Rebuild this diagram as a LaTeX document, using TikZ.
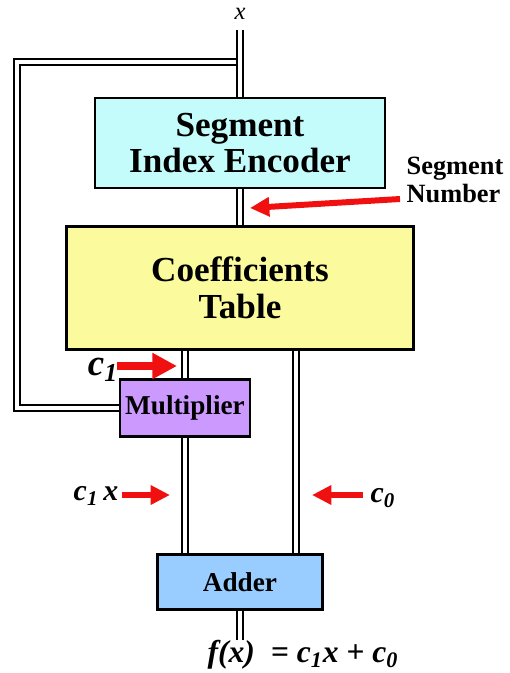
\documentclass[tikz,border=0pt]{standalone}
\usepackage{fontspec}
\setmainfont{Liberation Serif}
\usetikzlibrary{arrows.meta}
\definecolor{EncCyan} {HTML}{C4FBFB}
\definecolor{TabYellow}{HTML}{FBFB9E}
\definecolor{MulViolet}{HTML}{CC99FF}
\definecolor{AddBlue} {HTML}{99CCFF}
\definecolor{ArrRed}  {HTML}{F01010}
\tikzset{
  every node/.style={font=\bfseries},
  % function blocks
  blk/.style={draw, line width=1.3pt, align=center, inner sep=0pt},
  bus/.style={line width=1.5pt, double=white, double distance=1.8pt},
  redarr/.style={draw=ArrRed, line width=3.4pt,
                 -{Triangle[length=11pt, width=10.5pt]}},
  coef/.style={font=\fontsize{17}{17}\selectfont\bfseries\itshape},
}
\begin{document}
\begin{tikzpicture}[x=0.02cm, y=-0.02cm]
\useasboundingbox (0,0) rectangle (510,673);
\node[blk, fill=EncCyan, minimum width=5.8cm, minimum height=1.8cm,
      font=\fontsize{20}{20}\selectfont\bfseries] (sie) at (240,143) {Segment\\Index Encoder};
\node[blk, fill=TabYellow, minimum width=6.94cm, minimum height=2.46cm,
      font=\fontsize{20}{21}\selectfont\bfseries] (ct) at (240,288) {Coefficients\\Table};
\node[blk, fill=MulViolet, minimum width=2.6cm, minimum height=1.14cm,
      font=\fontsize{15.5}{15.5}\selectfont\bfseries] (mul) at (185,408) {Multiplier};
\node[blk, fill=AddBlue, minimum width=3.3cm, minimum height=1.1cm,
      font=\fontsize{15.5}{15.5}\selectfont\bfseries] (add) at (240,582) {Adder};
\coordinate (xin) at (240,30);
\coordinate (tap) at (240,62);
\coordinate (fbl) at (17,408);
\coordinate (c0x) at (296,350);
\coordinate (out) at (240,640);
% buses
\draw[bus] (tap) -| (fbl) -- (mul.west);
\draw[bus] (xin) -- (sie.north);
\draw[bus] (sie.south) -- (ct.north);
\draw[bus] (mul.north |- ct.south) -- (mul.north);
\draw[bus] (mul.south) -- (mul.south |- add.north);
\draw[bus] (c0x |- ct.south) -- (c0x |- add.north);
\draw[bus] (add.south) -- (out);
% labels
\node[font=\fontsize{14}{14}\selectfont\itshape] (xlbl) at (240,14) {x};
\node[font=\fontsize{15}{16}\selectfont\bfseries, align=left] (segno) at (455,180) {Segment\\Number};
\node[coef, font=\fontsize{21}{21}\selectfont\bfseries\itshape] (c1) at (103,370) {c\textsubscript{1}};
\node[coef] (c1x) at (96,496) {c\textsubscript{1}\,x};
\node[coef] (c0) at (383,498) {c\textsubscript{0}};
\node[font=\fontsize{18}{18}\selectfont\bfseries\itshape] (fx) at (303,655)
  {f(x)\ \ = c\textsubscript{1}x + c\textsubscript{0}};
% red pointers
\coordinate (segtip) at (250,208);
\coordinate (c1tip) at (177,366);
\coordinate (c1xtip) at (170,495);
\coordinate (c0tip) at (312,495);
\draw[redarr] (400,199) -- (segtip);
\draw[redarr, line width=5pt, -{Triangle[length=14pt, width=14pt]}] (117,366) -- (c1tip);
\draw[redarr] (122,495) -- (c1xtip);
\draw[redarr] (363,495) -- (c0tip);
\end{tikzpicture}
\end{document}
